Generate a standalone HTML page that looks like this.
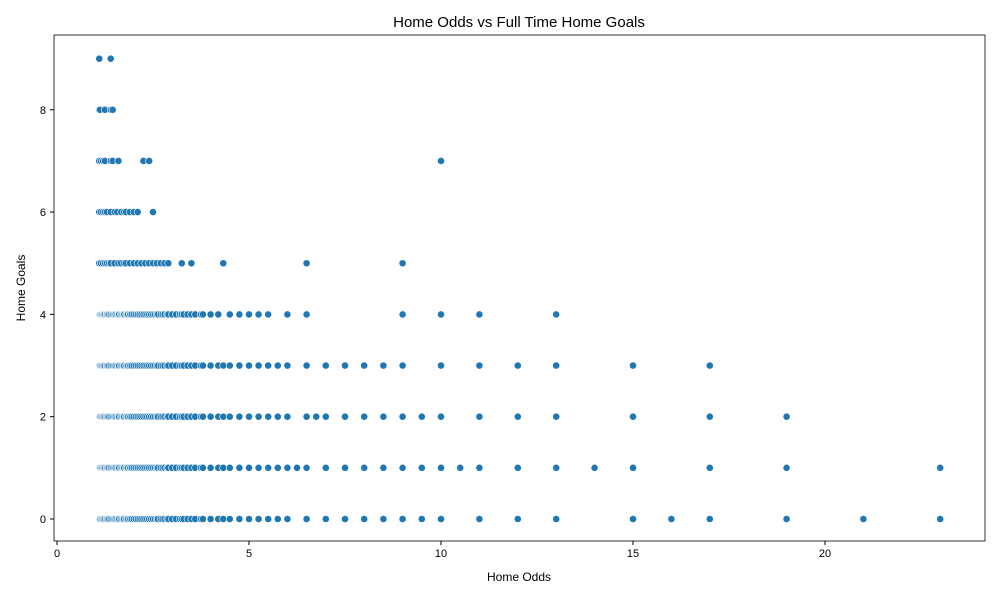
<!DOCTYPE html>
<html><head><meta charset="utf-8"><style>
body{margin:0;background:#fff;}
svg text{font-family:"Liberation Sans","DejaVu Sans",sans-serif;fill:#000;}
</style></head><body>
<svg id="chart" width="1000" height="600" xmlns="http://www.w3.org/2000/svg">
<text x="519" y="27" font-size="15" text-anchor="middle">Home Odds vs Full Time Home Goals</text>
<g id="ticks"></g>
<g id="points"></g>
<rect x="54" y="35" width="931" height="506" fill="none" stroke="#000" stroke-width="0.8"/>
<text x="519" y="581" font-size="12" text-anchor="middle">Home Odds</text>
<text x="25" y="288" font-size="12" text-anchor="middle" transform="rotate(-90 25 288)">Home Goals</text>
</svg>
<script>
const xTicks=[0,5,10,15,20];
const yTicks=[0,2,4,6,8];
const denseLow=[1.1,1.11,1.12,1.14,1.17,1.2,1.22,1.25,1.29,1.3,1.33,1.36,1.4,1.44,1.47,1.5,1.53,1.57,1.6,1.62,1.67,1.7,1.73,1.75,1.8,1.83,1.85,1.9,1.91,1.95,2.0,2.05,2.1,2.15,2.2,2.25,2.3,2.35,2.4,2.45,2.5,2.55,2.6,2.63,2.7,2.75,2.8,2.87,2.9,3.0,3.1,3.2,3.25,3.3,3.4,3.5,3.6,3.75,3.8];
const goals0=[4.0,4.2,4.33,4.5,4.75,5,5.25,5.5,5.75,6,6.5,7,7.5,8,8.5,9,9.5,10,11,12,13,15,16,17,19,21,23];
const goals1=[4.0,4.2,4.33,4.5,4.75,5,5.25,5.5,5.75,6,6.25,6.5,7,7.5,8,8.5,9,9.5,10,10.5,11,12,13,14,15,17,19,23];
const goals2=[4.0,4.2,4.33,4.5,4.75,5,5.25,5.5,5.75,6,6.5,6.75,7,7.5,8,8.5,9,9.5,10,11,12,13,15,17,19];
const goals3=[4.0,4.2,4.33,4.5,4.75,5,5.25,5.5,5.75,6,6.5,7,7.5,8,8.5,9,10,11,12,13,15,17];
const goals4=[4.0,4.2,4.5,4.75,5,5.25,5.5,6,6.5,9,10,11,13];
const goals5=[1.1,1.14,1.2,1.25,1.3,1.36,1.4,1.5,1.6,1.67,1.75,1.8,1.9,2.0,2.1,2.2,2.3,2.4,2.5,2.6,2.7,2.8,2.9,3.25,3.5,4.33,6.5,9];
const goals6=[1.1,1.14,1.2,1.25,1.3,1.4,1.5,1.57,1.67,1.75,1.8,1.9,2.0,2.1,2.5];
const goals7=[1.1,1.15,1.2,1.25,1.4,1.45,1.6,2.25,2.4,10];
const goals8=[1.1,1.12,1.25,1.4,1.45];
const goals9=[1.1,1.4];

const sx=v=>57+v*38.4;
const sy=v=>519-v*51.15;
const NS="http://www.w3.org/2000/svg";
const tg=document.getElementById('ticks');
xTicks.forEach(t=>{
 const l=document.createElementNS(NS,'line');
 l.setAttribute('x1',sx(t));l.setAttribute('x2',sx(t));l.setAttribute('y1',541);l.setAttribute('y2',545);l.setAttribute('stroke','#000');
 
 
 tg.appendChild(l);
 const tx=document.createElementNS(NS,'text');
 tx.setAttribute('x',sx(t));tx.setAttribute('y',557);tx.setAttribute('font-size','11');tx.setAttribute('text-anchor','middle');tx.textContent=t;
 
 
 tg.appendChild(tx);
});
yTicks.forEach(t=>{
 const l=document.createElementNS(NS,'line');
 l.setAttribute('x1',50);l.setAttribute('x2',54);l.setAttribute('y1',sy(t));l.setAttribute('y2',sy(t));l.setAttribute('stroke','#000');
 
 
 tg.appendChild(l);
 const tx=document.createElementNS(NS,'text');
 tx.setAttribute('x',46);tx.setAttribute('y',sy(t)+4);tx.setAttribute('font-size','11');tx.setAttribute('text-anchor','end');tx.textContent=t;
 
 
 tg.appendChild(tx);
});
const pg=document.getElementById('points');
const levels=[denseLow.concat(goals0),denseLow.concat(goals1),denseLow.concat(goals2),denseLow.concat(goals3),denseLow.concat(goals4),goals5,goals6,goals7,goals8,goals9];
levels.forEach((arr,g)=>{
 arr.forEach(o=>{
  const c=document.createElementNS(NS,'circle');
  c.setAttribute('cx',sx(o));c.setAttribute('cy',sy(g));c.setAttribute('r',3.6);
  c.setAttribute('fill','#1f77b4');c.setAttribute('stroke','#fff');c.setAttribute('stroke-width','0.6');
  
  
  pg.appendChild(c);
 });
});
</script>
</body></html>
